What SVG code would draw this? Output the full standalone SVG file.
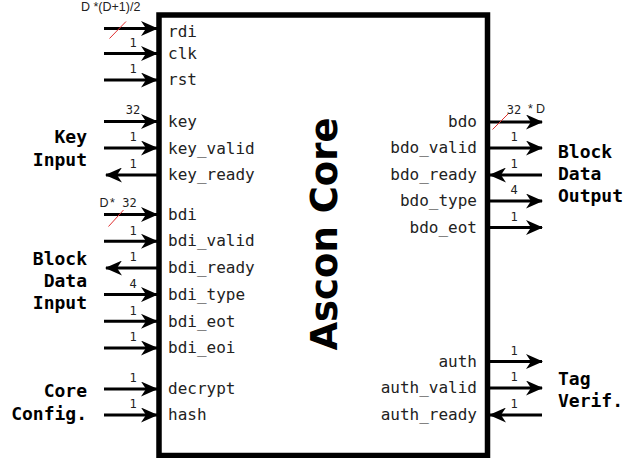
<svg xmlns="http://www.w3.org/2000/svg" width="627" height="458" viewBox="0 0 627 458">
<defs>
<marker id="ah" markerUnits="userSpaceOnUse" markerWidth="17" markerHeight="15" refX="16" refY="7.5" orient="auto" viewBox="0 0 17 15">
<path d="M0,0 L17,7.5 L0,15 L5,7.5 Z" fill="#000"/>
</marker>
</defs>
<style>
.box{fill:#fff;stroke:#000;stroke-width:5.5}
.pin{font-family:"DejaVu Sans Mono",monospace;font-size:16px;fill:#222}
.pr{text-anchor:end}
.w{font-family:"DejaVu Sans Mono",monospace;font-size:12px;fill:#222;text-anchor:middle}
.ws{font-family:"Liberation Sans",Arial,sans-serif;font-size:12.5px;fill:#222}
.grp{font-family:"DejaVu Sans Mono",monospace;font-size:18px;font-weight:bold;fill:#000}
.ge{text-anchor:end}
.title{font-family:"DejaVu Sans",sans-serif;font-size:37px;font-weight:bold;fill:#000;text-anchor:middle}
.c{stroke:#000;stroke-width:3;fill:none;marker-end:url(#ah)}
.slash{stroke:#e03030;stroke-width:1}
</style>

<g id="ascon-core">
<rect class="box" x="159" y="15" width="328.5" height="440.5"/>
<text class="title" transform="translate(337,234) rotate(-90)">Ascon Core</text>
<text class="pin" x="168" y="37">rdi</text>
<text class="pin" x="168" y="58.5">clk</text>
<text class="pin" x="168" y="85">rst</text>
<text class="pin" x="168" y="127">key</text>
<text class="pin" x="168" y="153.5">key_valid</text>
<text class="pin" x="168" y="180">key_ready</text>
<text class="pin" x="168" y="219.5">bdi</text>
<text class="pin" x="168" y="246">bdi_valid</text>
<text class="pin" x="168" y="273">bdi_ready</text>
<text class="pin" x="168" y="299.5">bdi_type</text>
<text class="pin" x="168" y="326.5">bdi_eot</text>
<text class="pin" x="168" y="353">bdi_eoi</text>
<text class="pin" x="168" y="394">decrypt</text>
<text class="pin" x="168" y="420">hash</text>
<text class="pin pr" x="477" y="127">bdo</text>
<text class="pin pr" x="477" y="153">bdo_valid</text>
<text class="pin pr" x="477" y="180">bdo_ready</text>
<text class="pin pr" x="477" y="206">bdo_type</text>
<text class="pin pr" x="477" y="232.5">bdo_eot</text>
<text class="pin pr" x="477" y="366.5">auth</text>
<text class="pin pr" x="477" y="393">auth_valid</text>
<text class="pin pr" x="477" y="420">auth_ready</text>
</g>

<g id="key-input">
<text class="grp ge" x="87" y="143">Key</text>
<text class="grp ge" x="87" y="166">Input</text>
</g>
<g id="block-data-input">
<text class="grp ge" x="87" y="265">Block</text>
<text class="grp ge" x="87" y="287">Data</text>
<text class="grp ge" x="87" y="309">Input</text>
</g>
<g id="core-config">
<text class="grp ge" x="87" y="397">Core</text>
<text class="grp ge" x="87" y="420">Config.</text>
</g>
<g id="block-data-output">
<text class="grp" x="558" y="158">Block</text>
<text class="grp" x="558" y="180">Data</text>
<text class="grp" x="558" y="202">Output</text>
</g>
<g id="tag-verif">
<text class="grp" x="558" y="385">Tag</text>
<text class="grp" x="558" y="407">Verif.</text>
</g>

<g id="connectors">
<line class="c" x1="104" y1="28.5" x2="157" y2="28.5"/>
<line class="c" x1="104" y1="53.5" x2="157" y2="53.5"/>
<line class="c" x1="104" y1="80" x2="157" y2="80"/>
<line class="c" x1="104" y1="121.5" x2="157" y2="121.5"/>
<line class="c" x1="104" y1="148" x2="157" y2="148"/>
<line class="c" x1="157" y1="175" x2="106" y2="175"/>
<line class="c" x1="104" y1="214.5" x2="157" y2="214.5"/>
<line class="c" x1="104" y1="241.2" x2="157" y2="241.2"/>
<line class="c" x1="157" y1="268" x2="106" y2="268"/>
<line class="c" x1="104" y1="294.6" x2="157" y2="294.6"/>
<line class="c" x1="104" y1="321.3" x2="157" y2="321.3"/>
<line class="c" x1="104" y1="348" x2="157" y2="348"/>
<line class="c" x1="104" y1="389" x2="157" y2="389"/>
<line class="c" x1="104" y1="415" x2="157" y2="415"/>
<line class="c" x1="490" y1="122" x2="542" y2="122"/>
<line class="c" x1="490" y1="148" x2="542" y2="148"/>
<line class="c" x1="542" y1="175" x2="490" y2="175"/>
<line class="c" x1="490" y1="201" x2="542" y2="201"/>
<line class="c" x1="490" y1="227.5" x2="542" y2="227.5"/>
<line class="c" x1="490" y1="361.5" x2="542" y2="361.5"/>
<line class="c" x1="490" y1="388" x2="542" y2="388"/>
<line class="c" x1="542" y1="415" x2="490" y2="415"/>
<line class="slash" x1="109.5" y1="38.5" x2="126" y2="21.5"/>
<line class="slash" x1="108.5" y1="226.5" x2="123.5" y2="210"/>
<line class="slash" x1="492.5" y1="129.5" x2="508.5" y2="113.5"/>
<text class="ws" x="81" y="11">D *(D+1)/2</text>
<text class="w" x="133" y="46.5">1</text>
<text class="w" x="133" y="73">1</text>
<text class="w" x="133" y="114">32</text>
<text class="w" x="133" y="141">1</text>
<text class="w" x="133" y="168">1</text>
<text class="ws" x="99.5" y="207">D</text><text class="ws" x="110" y="207">*</text><text class="w" x="129.5" y="207">32</text>
<text class="w" x="133" y="234.5">1</text>
<text class="w" x="133" y="261">1</text>
<text class="w" x="133" y="288">4</text>
<text class="w" x="133" y="314.5">1</text>
<text class="w" x="133" y="341">1</text>
<text class="w" x="133" y="382">1</text>
<text class="w" x="133" y="408">1</text>
<text class="w" x="514" y="114">32</text><text class="ws" x="528" y="113">*</text><text class="ws" x="536" y="113">D</text>
<text class="w" x="514" y="141">1</text>
<text class="w" x="514" y="168">1</text>
<text class="w" x="514" y="194">4</text>
<text class="w" x="514" y="220.5">1</text>
<text class="w" x="514" y="354.5">1</text>
<text class="w" x="514" y="381">1</text>
<text class="w" x="514" y="408">1</text>
</g>
</svg>
